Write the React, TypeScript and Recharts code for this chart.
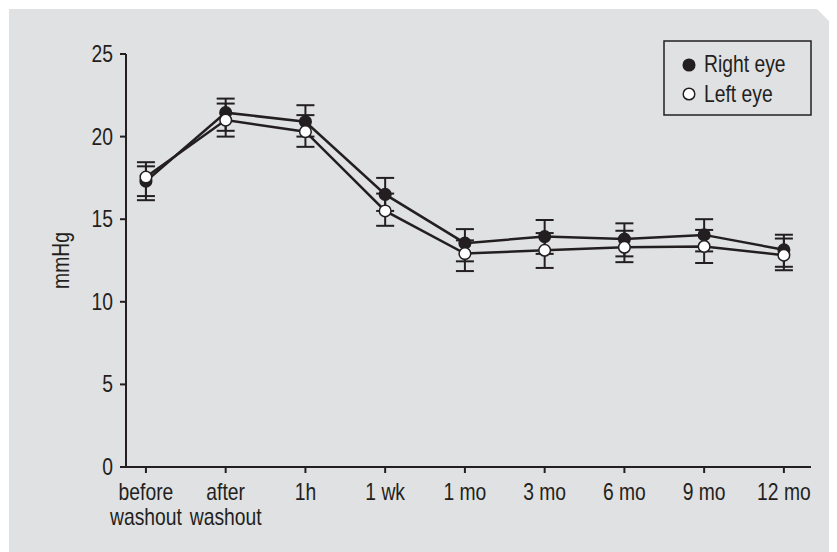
import React from 'react';
import { LineChart, Line, XAxis, YAxis, ErrorBar, Legend, Label } from 'recharts';

const categories = ['before\nwashout', 'after\nwashout', '1h', '1 wk', '1 mo', '3 mo', '6 mo', '9 mo', '12 mo'];
const rightEye = [17.3, 21.45, 20.9, 16.5, 13.55, 13.95, 13.8, 14.05, 13.15];
const leftEye = [17.55, 21.0, 20.3, 15.5, 12.92, 13.12, 13.3, 13.35, 12.82];
const rightErrLow = [1.15, 1.1, 0.9, 1.0, 1.1, 1.05, 1.05, 1.0, 1.03];
const rightErrHigh = [1.15, 0.85, 1.0, 1.0, 0.85, 1.0, 0.95, 0.95, 0.91];
const leftErrLow = [1.15, 1.0, 0.92, 0.9, 1.06, 1.07, 0.9, 1.0, 0.91];
const leftErrHigh = [0.65, 1.0, 1.0, 1.05, 0.8, 1.04, 1.0, 1.0, 1.01];
const yTicks = [0, 5, 10, 15, 20, 25];
const seriesNames = ['Right eye', 'Left eye'];
const yTitle = 'mmHg';

const data = categories.map((c, i) => ({
  x: i,
  right: rightEye[i],
  left: leftEye[i],
  rightErr: [rightErrLow[i], rightErrHigh[i]],
  leftErr: [leftErrLow[i], leftErrHigh[i]],
}));

const INK = '#231f20';
const BG = '#e0e1e3';
const FONT = "'Liberation Sans', Arial, sans-serif";
const FS = 23;
const NARROW = 0.84;

const NText = ({ x, y, anchor = 'start', children, rotate = 0 }: any) => (
  <g transform={`translate(${x},${y}) rotate(${rotate}) scale(${NARROW},1)`}>
    <text x={0} y={0} textAnchor={anchor} fill={INK} fontFamily={FONT} fontSize={FS}>
      {children}
    </text>
  </g>
);

const XTick = (props: any) => {
  const { x, y, payload } = props;
  const lines = String(categories[payload.value] ?? '').split('\n');
  return (
    <g>
      {lines.map((l, i) => (
        <NText key={i} x={x} y={y + 25 + i * 25} anchor="middle">{l}</NText>
      ))}
    </g>
  );
};

const YTick = (props: any) => {
  const { x, y, payload } = props;
  return <NText x={x} y={y + 8} anchor="end">{String(payload.value)}</NText>;
};

const YTitle = (props: any) => {
  const vb = props.viewBox || { x: 0, y: 0, width: 0, height: 0 };
  const cx = vb.x + vb.width / 2 + 2;
  const cy = vb.y + vb.height / 2;
  return <NText x={cx} y={cy} anchor="middle" rotate={-90}>{yTitle}</NText>;
};

const FilledDot = (props: any) => {
  const { cx, cy } = props;
  return <circle cx={cx} cy={cy} r={5.8} fill={INK} stroke={INK} strokeWidth={1.5} />;
};
const OpenDot = (props: any) => {
  const { cx, cy } = props;
  return <circle cx={cx} cy={cy} r={5.8} fill="#ffffff" stroke={INK} strokeWidth={1.5} />;
};

const LegendBox = () => (
  <svg width={150} height={77} style={{ display: 'block' }}>
    <rect x={1} y={1} width={147} height={74} fill={BG} stroke={INK} strokeWidth={1.5} />
    <circle cx={26} cy={25} r={5.8} fill={INK} stroke={INK} strokeWidth={1.5} />
    <NText x={41} y={32}>{seriesNames[0]}</NText>
    <circle cx={26} cy={54} r={5.8} fill="#ffffff" stroke={INK} strokeWidth={1.5} />
    <NText x={41} y={62}>{seriesNames[1]}</NText>
  </svg>
);

export default function App() {
  return (
    <div style={{ position: 'relative', width: 829, height: 544 }}>
      <div
        style={{
          position: 'absolute',
          left: 1,
          top: 1,
          width: 828,
          height: 543,
          background: BG,
          clipPath: 'polygon(0 0, 808px 0, 828px 20px, 828px 543px, 0 543px)',
        }}
      />
      <div style={{ position: 'absolute', left: 0, top: 0 }}>
        <LineChart
          width={829}
          height={544}
          data={data}
          margin={{ top: 46, right: 26, bottom: 25, left: 0 }}
          style={{ fontFamily: FONT }}
        >
          <XAxis
            dataKey="x"
            type="number"
            domain={[-0.25, 8.34]}
            ticks={[0, 1, 2, 3, 4, 5, 6, 7, 8]}
            interval={0}
            height={60}
            tick={<XTick />}
            tickSize={6}
            tickMargin={2}
            axisLine={{ stroke: INK, strokeWidth: 2 }}
            tickLine={{ stroke: INK, strokeWidth: 2 }}
          />
          <YAxis
            type="number"
            domain={[0, 25]}
            ticks={yTicks}
            interval={0}
            width={118}
            tickSize={6}
            tickMargin={7}
            tick={<YTick />}
            axisLine={{ stroke: INK, strokeWidth: 2 }}
            tickLine={{ stroke: INK, strokeWidth: 2 }}
          >
            <Label content={<YTitle />} position="center" />
          </YAxis>
          <Legend
            layout="vertical"
            align="center"
            verticalAlign="middle"
            wrapperStyle={{ top: 32, left: 655, width: 150, height: 77 }}
            content={() => <LegendBox />}
          />
          <Line
            name={seriesNames[0]}
            dataKey="right"
            stroke={INK}
            strokeWidth={2.5}
            dot={<FilledDot />}
            activeDot={false}
            isAnimationActive={false}
          >
            <ErrorBar dataKey="rightErr" direction="y" width={9} stroke={INK} strokeWidth={2} />
          </Line>
          <Line
            name={seriesNames[1]}
            dataKey="left"
            stroke={INK}
            strokeWidth={2.5}
            dot={<OpenDot />}
            activeDot={false}
            isAnimationActive={false}
          >
            <ErrorBar dataKey="leftErr" direction="y" width={9} stroke={INK} strokeWidth={2} />
          </Line>
        </LineChart>
      </div>
    </div>
  );
}
